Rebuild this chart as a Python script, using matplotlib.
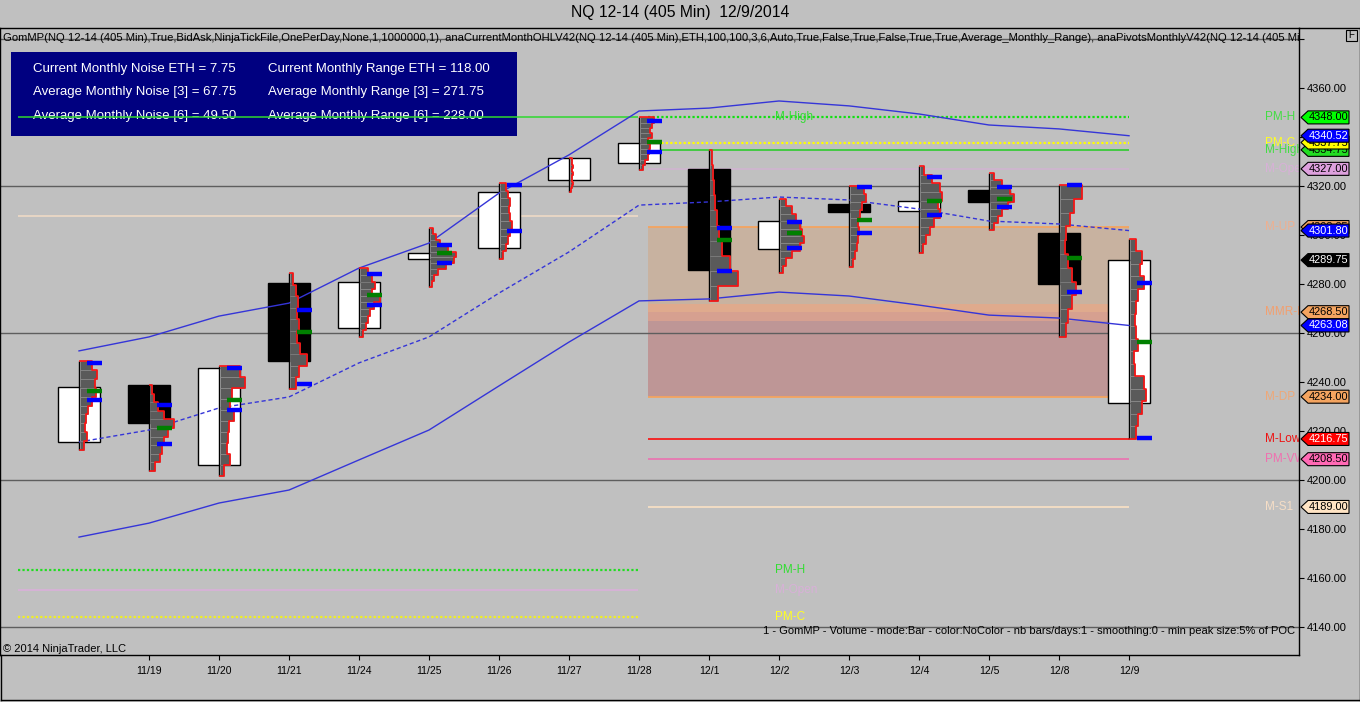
import matplotlib
matplotlib.use('Agg')
import matplotlib.pyplot as plt
import numpy as np
from matplotlib.patches import Rectangle, Polygon
from matplotlib.lines import Line2D
import matplotlib.transforms as mtransforms

plt.rcParams['font.family'] = ['Liberation Sans', 'DejaVu Sans']

# ---------------- data ----------------
dates = ['11/18', '11/19', '11/20', '11/21', '11/24', '11/25', '11/26', '11/27',
         '11/28', '12/1', '12/2', '12/3', '12/4', '12/5', '12/8', '12/9']
opens = [4215.5, 4238.8, 4206.1, 4280.4, 4262.0, 4290.2, 4294.7, 4322.4,
         4329.4, 4327.0, 4294.3, 4312.7, 4309.8, 4318.4, 4300.8, 4231.4]
highs = [4248.6, 4238.8, 4246.5, 4284.5, 4286.5, 4302.9, 4321.2, 4331.4,
         4348.0, 4334.75, 4314.7, 4320.0, 4328.2, 4325.3, 4320.4, 4298.4]
lows = [4212.2, 4203.7, 4201.6, 4237.1, 4258.4, 4278.8, 4290.2, 4317.6,
        4326.5, 4273.0, 4284.5, 4286.9, 4292.7, 4302.0, 4258.4, 4216.75]
closes = [4238.0, 4223.3, 4245.7, 4248.6, 4280.8, 4292.7, 4317.6, 4331.4,
          4337.75, 4285.7, 4305.7, 4309.4, 4313.9, 4313.5, 4280.0, 4289.75]

upper_band = [4252.7, 4258.4, 4266.9, 4272.2, 4286.5, 4296.7, 4317.1, 4332.7,
              4350.6, 4351.8, 4354.7, 4352.7, 4349.4, 4344.9, 4343.3, 4340.52]
mid_band = [4215.5, 4220.4, 4229.4, 4233.9, 4247.8, 4258.4, 4276.3, 4293.1,
            4312.2, 4313.5, 4315.5, 4314.3, 4310.6, 4305.7, 4304.5, 4301.80]
lower_band = [4176.7, 4182.4, 4190.6, 4195.9, 4208.2, 4220.4, 4238.4, 4256.3,
              4273.1, 4273.9, 4276.7, 4275.1, 4271.4, 4267.3, 4266.1, 4263.08]

# volume profile (relative volume per price slice, top -> bottom)
profiles = [
    [12, 17, 15, 16, 12, 8, 6, 5, 7, 4],
    [2, 4, 8, 14, 24, 18, 14, 12, 10, 5],
    [20, 25, 12, 10, 14, 9, 8, 7, 10, 4],
    [3, 6, 8, 7, 9, 7, 10, 17, 9, 6],
    [8, 12, 15, 12, 20, 14, 10, 8, 6, 3],
    [3, 6, 10, 18, 26, 24, 16, 8, 4, 2],
    [6, 8, 10, 9, 10, 12, 10, 8, 6, 3],
    [2, 2, 3, 2, 3, 2, 2, 3, 2, 1],
    [14, 12, 10, 12, 8, 10, 9, 8, 5, 3],
    [2, 3, 4, 5, 7, 9, 12, 20, 28, 8],
    [6, 12, 16, 20, 22, 24, 20, 12, 6, 3],
    [14, 16, 12, 10, 8, 9, 8, 7, 5, 3],
    [4, 12, 20, 22, 18, 20, 14, 10, 6, 3],
    [4, 12, 20, 24, 18, 12, 8, 4],
    [22, 14, 10, 6, 5, 8, 12, 16, 12, 8, 6],
    [6, 12, 10, 14, 8, 6, 5, 6, 8, 4, 5, 14, 16, 12, 8, 6],
]
va_high = [4247.8, 4230.6, 4245.7, 4269.4, 4284.1, 4295.9, 4320.4, np.nan,
           4346.5, 4302.9, 4305.3, 4319.6, 4323.7, 4319.6, 4320.4, 4280.4]
va_low = [4232.7, 4214.7, 4228.6, 4239.2, 4271.4, 4288.6, 4301.6, np.nan,
          4333.9, 4285.3, 4294.7, 4300.8, 4308.2, 4311.4, 4276.7, 4217.1]
poc = [4236.3, 4221.2, 4232.7, 4260.4, 4275.5, 4292.7, np.nan, np.nan,
       4338.0, 4298.0, 4300.8, 4306.1, 4313.9, 4314.7, 4290.6, 4256.3]

# monthly levels
prev_levels = [  # price, color, style
    (4348.00, '#2FD82F', '-'),
    (4307.80, '#F2DCC6', '-'),
    (4163.30, '#22DD22', ':'),
    (4155.10, '#DCAEDC', '-'),
    (4144.10, '#F0F020', ':'),
]
prev_labels = [('M-High', 4348.00, '#33DD33'), ('PM-H', 4163.30, '#33DD33'),
               ('M-Open', 4155.10, '#D8B0D8'), ('PM-C', 4144.10, '#FFFF22')]
cur_levels = [
    (4348.00, '#11E011', ':'),
    (4337.75, '#FFFF00', ':'),
    (4334.75, '#22CC22', '-'),
    (4327.00, '#D2B4D2', '-'),
    (4216.75, '#FF0000', '-'),
    (4208.50, '#EE6AAE', '-'),
    (4189.00, '#FFE4C4', '-'),
]
zone_edges = [4303.25, 4271.8, 4268.5, 4265.0, 4234.0]
zone_colors = ['#C8B2A0', '#DFAA8D', '#D6A090', '#BE9696']
axis_labels = [('PM-H', 4348.00, '#44DD44'), ('PM-C', 4337.75, '#FFFF22'),
               ('M-High', 4334.75, '#44DD44'), ('M-Open', 4327.00, '#D8B0D8'),
               ('M-UP', 4303.25, '#EEB090'), ('MMR-Mid', 4268.50, '#F2A070'),
               ('M-DP', 4234.00, '#EEA878'), ('M-Low', 4216.75, '#EE1111'),
               ('PM-VWAP', 4208.50, '#F070B0'), ('M-S1', 4189.00, '#F6DEC6')]
markers = [  # price, text, face, text color
    (4348.00, '4348.00', '#00FF00', 'black'),
    (4334.75, '4334.75', '#22DD22', 'black'),
    (4337.75, '4337.75', '#FFFF00', 'black'),
    (4340.52, '4340.52', '#0000FF', 'white'),
    (4327.00, '4327.00', '#DDA0DD', 'black'),
    (4303.25, '4303.25', '#F4A460', 'black'),
    (4301.80, '4301.80', '#0000FF', 'white'),
    (4289.75, '4289.75', '#000000', 'white'),
    (4268.50, '4268.50', '#F4A460', 'black'),
    (4263.08, '4263.08', '#0000FF', 'white'),
    (4234.00, '4234.00', '#F4A460', 'black'),
    (4216.75, '4216.75', '#FF0000', 'white'),
    (4208.50, '4208.50', '#FF69B4', 'black'),
    (4189.00, '4189.00', '#FFE4C4', 'black'),
]
info_rows = [('Current Monthly Noise ETH = 7.75', 'Current Monthly Range ETH = 118.00'),
             ('Average Monthly Noise [3] = 67.75', 'Average Monthly Range [3] = 271.75'),
             ('Average Monthly Noise [6] = 49.50', 'Average Monthly Range [6] = 228.00')]
title = 'NQ 12-14 (405 Min)  12/9/2014'
indicator_text = ('GomMP(NQ 12-14 (405 Min),True,BidAsk,NinjaTickFile,OnePerDay,None,1,1000000,1), '
                  'anaCurrentMonthOHLV42(NQ 12-14 (405 Min),ETH,100,100,3,6,Auto,True,False,True,False,'
                  'True,True,Average_Monthly_Range), anaPivotsMonthlyV42(NQ 12-14 (405 Min),ETH,Auto)')
gom_text = ('1 - GomMP - Volume - mode:Bar - color:NoColor - nb bars/days:1 - '
            'smoothing:0 - min peak size:5% of POC')

# ---------------- layout ----------------
W, H = 1360, 702
BG = '#C0C0C0'
fig = plt.figure(figsize=(W / 100, H / 100), dpi=100, facecolor=BG)


def fx(px):
    return px / W


def fy(py):
    return 1 - py / H


AX_L, AX_T, AX_R, AX_B = 0, 28, 1299, 655
ax = fig.add_axes([fx(AX_L), fy(AX_B), (AX_R - AX_L) / W, (AX_B - AX_T) / H])
ax.set_facecolor(BG)
X0PX, XSTEP = 79, 70          # pixel of first bar, pixels per bar
PPX, PREF, PREFY = 2.45, 4320, 186   # pixels per point, reference price/pixel


def px2x(px):
    return (px - X0PX) / XSTEP


def py2y(py):
    return PREF - (py - PREFY) / PPX


ax.set_xlim(px2x(AX_L), px2x(AX_R))
ax.set_ylim(py2y(AX_B), py2y(AX_T))
for s in ax.spines.values():
    s.set_color('black')
    s.set_linewidth(1)

# grid lines
for v in [4140, 4200, 4260, 4320, 4380]:
    ax.axhline(v, color='#5E5E5E', lw=1, zorder=1.2)

# info box
ax.add_patch(Rectangle((fx(11), fy(136)), (517 - 11) / W, (136 - 52) / H,
                       transform=fig.transFigure, facecolor='#000080',
                       edgecolor='none', zorder=0.8))
for r, (a, b) in enumerate(info_rows):
    yy = fy(69 + r * 23.3)
    ax.text(fx(33), yy, a, transform=fig.transFigure, color='white',
            fontsize=9.5, va='center', zorder=0.9)
    ax.text(fx(268), yy, b, transform=fig.transFigure, color='white',
            fontsize=9.5, va='center', zorder=0.9)

# monthly zone
prev_span = (px2x(18), px2x(638))
cur_span = (px2x(648), 15.0)
for k, c in enumerate(zone_colors):
    ax.fill_between(cur_span, zone_edges[k + 1], zone_edges[k], color=c,
                    lw=0, zorder=1.0)
ax.hlines([zone_edges[0], zone_edges[-1]], *cur_span, color='#F4A460', lw=1.3,
          zorder=1.3)

for p, c, ls in prev_levels:
    if ls == ':':
        ax.hlines(p, *prev_span, color=c, lw=1.6, linestyles=(0, (1, 1)), zorder=2)
    else:
        ax.hlines(p, *prev_span, color=c, lw=1.1, zorder=2)
for p, c, ls in cur_levels:
    if ls == ':':
        ax.hlines(p, *cur_span, color=c, lw=1.6, linestyles=(0, (1, 1)), zorder=2)
    else:
        ax.hlines(p, *cur_span, color=c, lw=1.1, zorder=2)

for t, p, c in prev_labels:
    ax.text(px2x(775), p, t, color=c, fontsize=8.5, va='center', zorder=2.1)
for t, p, c in axis_labels:
    ax.text(px2x(1265), p, t, color=c, fontsize=8.5, va='center', zorder=2.1,
            clip_on=True)

# candles
xs = np.arange(len(dates))
for i in xs:
    o, h, l, c = opens[i], highs[i], lows[i], closes[i]
    up = c >= o
    ax.add_patch(Rectangle((i - 0.3, min(o, c)), 0.6, max(abs(c - o), 0.3),
                           facecolor='white' if up else 'black',
                           edgecolor='black', lw=1, zorder=3))
    ax.vlines(i, l, h, color='black', lw=1, zorder=3.5)

# envelope lines
ax.plot(xs, upper_band, color='#3535D8', lw=1, zorder=4)
ax.plot(xs, mid_band, color='#3535D8', lw=1, ls=(0, (3, 2)), zorder=4)
ax.plot(xs, lower_band, color='#3535D8', lw=1, zorder=4)

# volume profiles
VSCALE = 1 / XSTEP
for i in xs:
    vols = profiles[i]
    n = len(vols)
    edges = np.linspace(highs[i], lows[i], n + 1)
    hstep = edges[0] - edges[1]
    centers = (edges[:-1] + edges[1:]) / 2
    widths = np.array(vols) * VSCALE
    ax.barh(centers, widths, height=hstep, left=i + 0.012, color='#5A5A5A',
            edgecolor='#8E8E8E', lw=0.4, zorder=5)
    ox, oy = [i + 0.012], [edges[0]]
    for k in range(n):
        ox += [i + 0.012 + widths[k], i + 0.012 + widths[k]]
        oy += [edges[k], edges[k + 1]]
    ox.append(i + 0.012)
    oy.append(edges[-1])
    ax.plot(ox, oy, color='#FF1010', lw=1.2, zorder=5.5)
    for val, col in ((va_high[i], '#0000FF'), (va_low[i], '#0000FF'), (poc[i], '#008000')):
        if not np.isnan(val):
            ax.hlines(val, i + 8 / XSTEP, i + 23 / XSTEP, color=col, lw=3.2, zorder=6)

# axes ticks
yt = np.arange(4140, 4381, 20)
ax.yaxis.tick_right()
ax.set_yticks(yt)
ax.set_yticklabels([f'{v:.2f}' if v < 4380 else '' for v in yt])
ax.tick_params(axis='y', direction='out', length=3.6, width=0.8, pad=2,
               labelsize=8, colors='black')
ax.set_xticks(xs[1:])
ax.set_xticklabels(dates[1:])
ax.tick_params(axis='x', direction='out', length=3.6, width=0.8, pad=4,
               labelsize=7.5, colors='black')

# right-side price markers
bt = mtransforms.blended_transform_factory(ax.transAxes, ax.transData)
axw = AX_R - AX_L
hh = 6.5 / PPX


def xa(px):
    return (px - AX_L) / axw


for k, (p, t, fc, tc) in enumerate(markers):
    poly = Polygon([(xa(1301), p), (xa(1308), p + hh), (xa(1349), p + hh),
                    (xa(1349), p - hh), (xa(1308), p - hh)], closed=True,
                   transform=bt, facecolor=fc, edgecolor='black', lw=0.8,
                   clip_on=False, zorder=10 + 2 * k)
    ax.add_patch(poly)
    ax.text(xa(1308.5), p, t, transform=bt, color=tc, fontsize=7.9, va='center',
            ha='left', clip_on=False, zorder=11 + 2 * k)

# texts
fig.text(0.5, fy(13), title, ha='center', va='center', fontsize=11.3)
ax.text(fx(3), fy(38), indicator_text, transform=fig.transFigure, fontsize=8.1,
        va='center', ha='left', clip_on=True, zorder=7)
ax.text(fx(1295), fy(631), gom_text, transform=fig.transFigure, fontsize=8.0,
        va='center', ha='right', zorder=7)
ax.text(fx(3), fy(649), '\u00a9 2014 NinjaTrader, LLC', transform=fig.transFigure,
        fontsize=8.0, va='center', ha='left', zorder=7)

# outer frame
for (xa_, ya_, xb_, yb_) in [(AX_R, 28, 1359.5, 28), (1359.5, 28, 1359.5, 700),
                             (0.5, 700, 1359.5, 700), (0.5, 655, 0.5, 700)]:
    fig.add_artist(Line2D([fx(xa_), fx(xb_)], [fy(ya_), fy(yb_)], color='black',
                          lw=1, transform=fig.transFigure))
fig.add_artist(Rectangle((fx(1346), fy(41)), 11 / W, 11 / H, transform=fig.transFigure,
                         facecolor='none', edgecolor='black', lw=0.8))
fig.text(fx(1351.5), fy(35.5), 'F', ha='center', va='center', fontsize=7)

fig.savefig('out.png', dpi=100, facecolor=BG)
